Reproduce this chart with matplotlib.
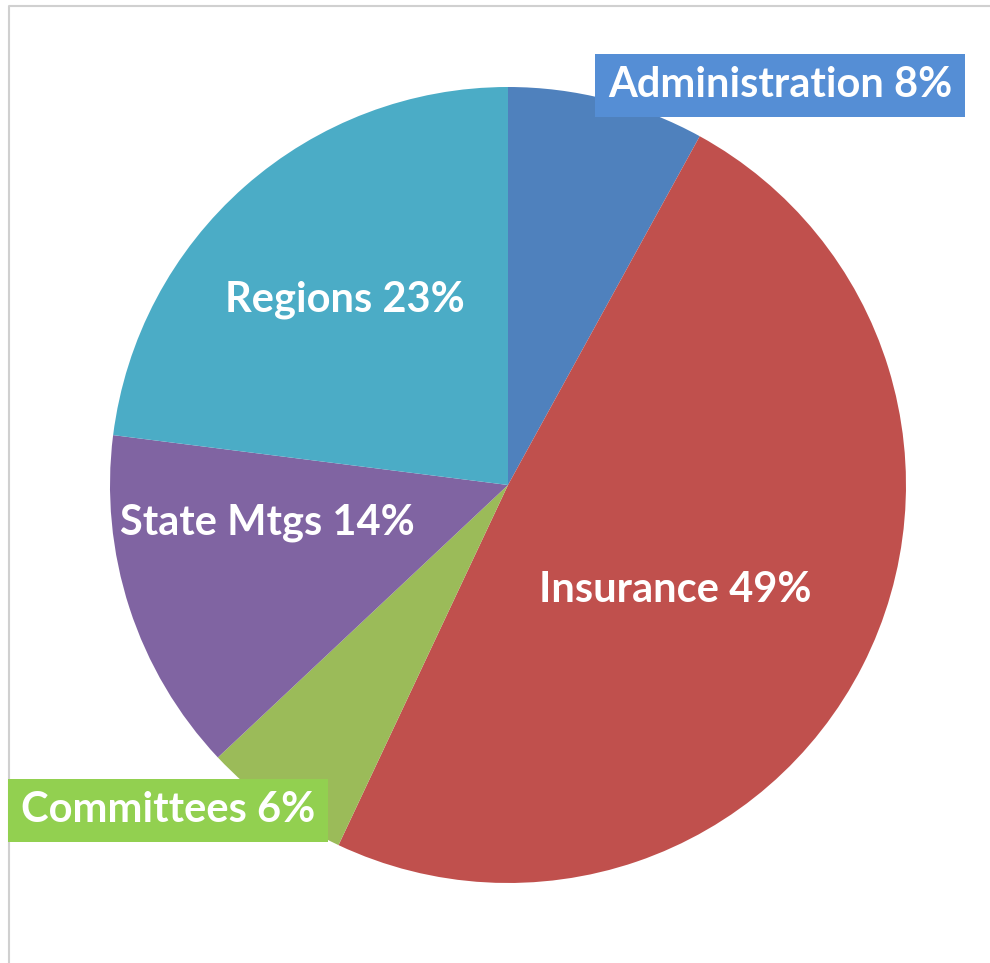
import matplotlib.pyplot as plt

W, H = 990, 963

labels = ['Administration', 'Insurance', 'Committees', 'State Mtgs', 'Regions']
shares = [8, 49, 6, 14, 23]
colors = ['#4F81BD', '#C0504D', '#9BBB59', '#8064A2', '#4BACC6']

# label centres in pixels (from top-left) and optional box colour
label_pos = [(780, 85), (675, 590), (168, 810), (267, 523), (345, 300)]
label_box = ['#558ED5', None, '#92D050', None, None]

plt.rcParams['font.family'] = ['Lato', 'DejaVu Sans']

fig = plt.figure(figsize=(W / 100, H / 100), dpi=100)
ax = fig.add_axes([0, 0, 1, 1])

ax.pie(shares, colors=colors, startangle=90, counterclock=False,
       center=(508, H - 485), radius=398, frame=True,
       wedgeprops=dict(linewidth=0))
ax.set_xlim(0, W)
ax.set_ylim(0, H)
ax.axis('off')

# light frame of the chart area
ax.plot([9, 9, W], [0, H - 6, H - 6], color='#d0d0d0', lw=1.5)

for name, pct, (px, py), box in zip(labels, shares, label_pos, label_box):
    kw = {}
    if box:
        kw['bbox'] = dict(boxstyle='square,pad=0.3', fc=box, ec='none')
    ax.text(px, H - py, f'{name} {pct}%', ha='center', va='center',
            color='white', fontsize=30, fontweight='bold', **kw)

fig.savefig('out.png', dpi=100)
